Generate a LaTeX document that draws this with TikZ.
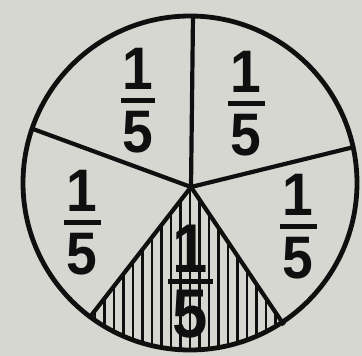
\documentclass[tikz,border=0pt]{standalone}
\usepackage{fontspec}
\usetikzlibrary{calc}
\newfontfamily\fracfont[FakeStretch=0.92]{Liberation Sans}
\newcommand\fracfive[3]{\vbox{\offinterlineskip\halign{\hfil##\hfil\cr 1\cr\noalign{\kern#3}\rule{#2}{5.5pt}\cr\noalign{\kern#3}5\cr}}}
\definecolor{paper}{RGB}{214,215,209}
\definecolor{ink}{RGB}{15,15,15}
\tikzset{
  fracnode/.style={inner sep=0pt, text=ink, font=\fracfont\bfseries\fontsize{60}{60}\selectfont},
  bigfrac/.style={inner sep=0pt, text=ink, font=\fracfont\bfseries\fontsize{69}{69}\selectfont},
  spoke/.style={draw=ink, line width=4.2pt},
  rim/.style={draw=ink, line width=4.8pt},
  hatch/.style={draw=ink, line width=2.8pt}
}
\begin{document}
\begin{tikzpicture}[x=1pt,y=-1pt]
\fill[paper] (0,0) rectangle (362,356);
\useasboundingbox (0,0) rectangle (362,356);
\coordinate (O) at (190,183);
\coordinate (hub) at (191,187);
\coordinate (T) at (193,16);
\coordinate (UL) at (33,129);
\coordinate (UR) at (354,147);
\coordinate (LL) at (90,317);
\coordinate (LR) at (284,325);
% hatched sector
\begin{scope}
  \clip (O) circle[radius=167pt];
  \clip (hub) -- ($(hub)!2.5!(LL)$) -- ($(hub)!2.5!(LR)$) -- cycle;
  \foreach \k in {-11,...,11} {
    \draw[hatch] (190+9.5*\k,180) -- (190+9.5*\k,360);
  }
\end{scope}
% fractions
\node[fracnode] (f1) at (138,101) {\fracfive{60pt}{35pt}{8pt}};
\node[fracnode] (f2) at (246,104) {\fracfive{60pt}{37pt}{8pt}};
\node[fracnode] (f3) at (82,223) {\fracfive{60pt}{37pt}{8pt}};
\node[fracnode] (f4) at (298,227) {\fracfive{60pt}{37pt}{8pt}};
\node[bigfrac] (f5) at (190,282) {\fracfive{69pt}{45pt}{6pt}};
% spokes
\draw[spoke] (hub) -- (T);
\draw[spoke] (hub) -- (UL);
\draw[spoke] (hub) -- (UR);
\draw[spoke] (hub) -- (LL);
\draw[spoke] (hub) -- (LR);
% rim
\draw[rim] (O) circle[radius=167pt];
\end{tikzpicture}
\end{document}
